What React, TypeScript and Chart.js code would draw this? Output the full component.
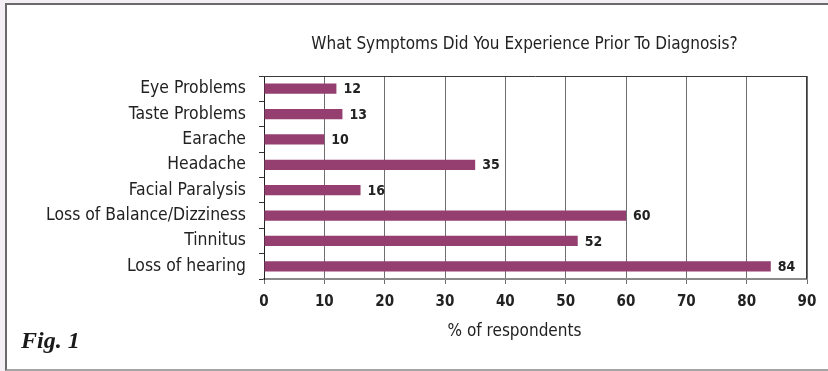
import React, { useEffect, useRef } from "react";
import { Chart, registerables } from "chart.js";

Chart.register(...registerables);

const categories = [
  "Eye Problems",
  "Taste Problems",
  "Earache",
  "Headache",
  "Facial Paralysis",
  "Loss of Balance/Dizziness",
  "Tinnitus",
  "Loss of hearing",
];
const values = [12, 13, 10, 35, 16, 60, 52, 84];
const xMin = 0;
const xMax = 90;
const xStep = 10;
const chartTitle = "What Symptoms Did You Experience Prior To Diagnosis?";
const xAxisTitle = "% of respondents";
const figLabel = "Fig. 1";

const labelFont = '"DejaVu Sans Condensed", "DejaVu Sans", sans-serif';
const numFont = '"Liberation Sans Narrow", "Arial Narrow", "DejaVu Sans Condensed", sans-serif';

export default function App() {
  const ref = useRef<HTMLCanvasElement | null>(null);

  useEffect(() => {
    if (!ref.current) return;
    const textPlugin = {
      id: "customText",
      afterDraw(chart: any) {
        const { ctx, chartArea } = chart;
        ctx.save();
        // plot frame
        ctx.strokeStyle = "#3a3a3a";
        ctx.lineWidth = 1;
        ctx.beginPath();
        ctx.moveTo(chartArea.left, chartArea.top + 0.5);
        ctx.lineTo(chartArea.right, chartArea.top + 0.5);
        ctx.moveTo(chartArea.right - 0.5, chartArea.top);
        ctx.lineTo(chartArea.right - 0.5, chartArea.bottom);
        ctx.stroke();
        // title
        ctx.fillStyle = "#222";
        ctx.font = "17px " + labelFont;
        ctx.textAlign = "center";
        ctx.textBaseline = "middle";
        const cx = (chartArea.left + chartArea.right) / 2;
        ctx.fillText(chartTitle, cx - 11, chartArea.top - 31);
        // x axis title
        ctx.font = "17px " + labelFont;
        ctx.fillText(xAxisTitle, cx - 21, chartArea.bottom + 53);
        // data labels
        const meta = chart.getDatasetMeta(0);
        ctx.font = "bold 14px " + numFont;
        ctx.textAlign = "left";
        meta.data.forEach((bar: any, i: number) => {
          ctx.fillText(String(values[i]), bar.x + 7, bar.y + 1);
        });
        ctx.restore();
      },
    };

    const chart = new Chart(ref.current, {
      type: "bar",
      data: {
        labels: categories,
        datasets: [
          {
            data: values,
            backgroundColor: "#943f6f",
            borderWidth: 0,
            barPercentage: 0.4,
            categoryPercentage: 1.0,
          },
        ],
      },
      options: {
        indexAxis: "y",
        animation: false,
        responsive: false,
        layout: { padding: { top: 76, right: 21, bottom: 0, left: 0 } },
        plugins: {
          legend: { display: false },
          tooltip: { enabled: false },
          title: { display: false },
        },
        scales: {
          x: {
            min: xMin,
            max: xMax,
            ticks: {
              stepSize: xStep,
              color: "#222",
              font: { family: numFont, size: 15, weight: "bold" },
              padding: 9,
              maxRotation: 0,
            },
            grid: {
              color: "#6e6e6e",
              lineWidth: 1,
              tickLength: 5,
              drawTicks: true,
            },
            border: { display: true, color: "#8a8a8a", width: 2 },
            afterFit(scale: any) {
              scale.height = 92;
            },
          },
          y: {
            ticks: {
              color: "#222",
              font: { family: labelFont, size: 17.4 },
              padding: 13,
            },
            grid: {
              drawOnChartArea: false,
              drawTicks: true,
              tickLength: 5,
              color: "#333",
              offset: true,
            },
            border: { display: true, color: "#222", width: 1 },
            afterFit(scale: any) {
              scale.width = 264;
            },
          },
        },
      },
      plugins: [textPlugin],
    });
    return () => chart.destroy();
  }, []);

  return (
    <div
      style={{
        position: "fixed",
        left: 0,
        top: 0,
        width: 828,
        height: 371,
        background: "#f4eff5",
        overflow: "hidden",
      }}
    >
      <div
        style={{
          position: "absolute",
          left: 5,
          top: 3,
          right: -4,
          height: 364,
          background: "#fff",
          borderLeft: "2px solid #6a6a6a",
          borderTop: "2px solid #6a6a6a",
          borderBottom: "2px solid #a4a4a4",
          borderRight: "2px solid #a4a4a4",
        }}
      />
      <canvas
        ref={ref}
        width={828}
        height={371}
        style={{ position: "absolute", left: 0, top: 0, width: 828, height: 371 }}
      />
      <div
        style={{
          position: "absolute",
          left: 21,
          top: 327,
          fontFamily: '"Liberation Serif", "DejaVu Serif", serif',
          fontWeight: "bold",
          fontStyle: "italic",
          fontSize: 24,
          color: "#1a1a1a",
        }}
      >
        {figLabel}
      </div>
    </div>
  );
}
